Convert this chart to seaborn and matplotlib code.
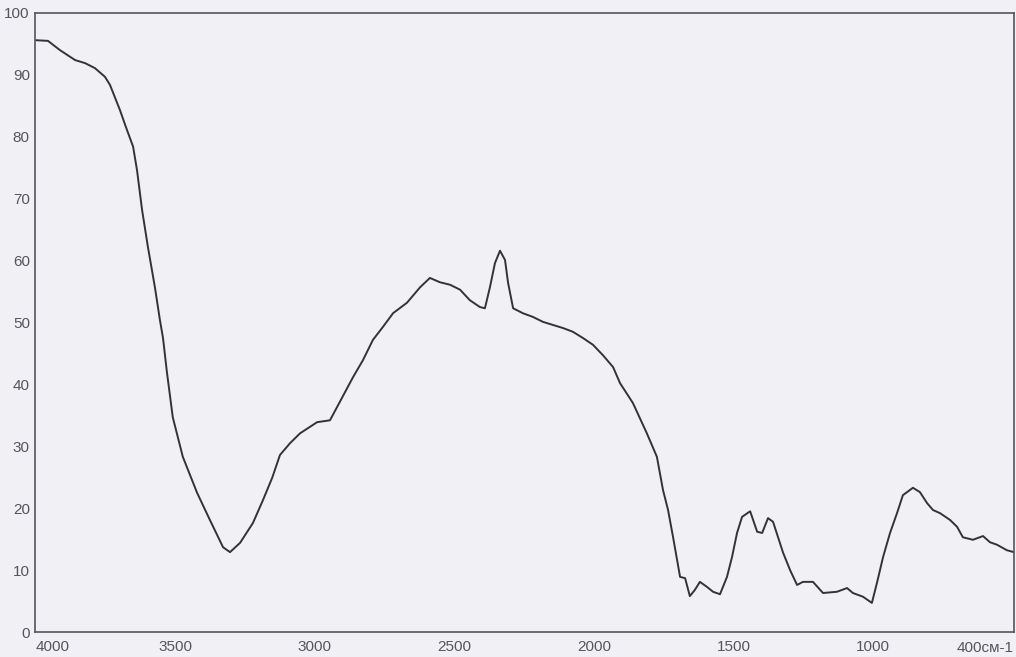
import numpy as np
import pandas as pd
import matplotlib
matplotlib.use('Agg')
import matplotlib.pyplot as plt
import seaborn as sns

# IR spectrum (wavenumber in cm-1, transmittance in %)
wavenumber = [3998, 3955, 3912, 3858, 3822, 3787, 3751, 3733, 3697, 3676,
              3650, 3636, 3618, 3597, 3572, 3554, 3543, 3529, 3508, 3472,
              3421, 3375, 3328, 3303, 3267, 3221, 3185, 3152, 3124, 3088,
              3052, 2991, 2945, 2920, 2862, 2827, 2791, 2755, 2719, 2669,
              2622, 2587, 2551, 2515, 2479, 2444, 2408, 2390, 2372, 2354,
              2336, 2318, 2307, 2289, 2254, 2218, 2182, 2146, 2110, 2075,
              2039, 2003, 1967, 1931, 1906, 1860, 1810, 1774, 1752, 1734,
              1716, 1691, 1673, 1656, 1638, 1620, 1595, 1573, 1548, 1523,
              1505, 1487, 1469, 1440, 1415, 1397, 1376, 1358, 1340, 1322,
              1297, 1272, 1251, 1215, 1179, 1129, 1093, 1072, 1036, 1004,
              986, 964, 939, 914, 893, 857, 832, 806, 785, 760,
              724, 699, 678, 642, 606, 581, 556, 520, 495]
transmittance = [95.6, 95.5, 94.0, 92.4, 91.9, 91.1, 89.7, 88.4, 84.3, 81.6,
                 78.4, 74.6, 68.2, 62.2, 55.7, 50.4, 47.5, 42.0, 34.7, 28.3,
                 22.5, 18.1, 13.7, 12.9, 14.4, 17.6, 21.3, 24.9, 28.6, 30.5,
                 32.1, 33.9, 34.2, 36.3, 41.2, 43.9, 47.2, 49.3, 51.5, 53.2,
                 55.7, 57.2, 56.5, 56.1, 55.3, 53.6, 52.5, 52.3, 55.7, 59.6,
                 61.6, 60.1, 56.4, 52.3, 51.5, 50.9, 50.1, 49.6, 49.1, 48.5,
                 47.5, 46.4, 44.7, 42.8, 40.2, 37.0, 32.1, 28.3, 22.9, 19.7,
                 15.3, 8.9, 8.7, 5.8, 6.8, 8.1, 7.3, 6.5, 6.1, 8.9,
                 12.1, 16.0, 18.6, 19.5, 16.2, 16.0, 18.4, 17.8, 15.3, 12.8,
                 10.0, 7.6, 8.1, 8.1, 6.3, 6.5, 7.1, 6.3, 5.7, 4.7,
                 7.9, 12.1, 16.0, 19.2, 22.1, 23.3, 22.6, 20.8, 19.7, 19.2,
                 18.1, 17.0, 15.3, 14.9, 15.5, 14.5, 14.1, 13.2, 12.9]

x_ticks = [4000, 3500, 3000, 2500, 2000, 1500, 1000]
x_labels = ['4000', '3500', '3000', '2500', '2000', '1500', '1000']
y_ticks = [0, 10, 20, 30, 40, 50, 60, 70, 80, 90, 100]
end_label = '400см-1'

df = pd.DataFrame({'wn': wavenumber, 'T': transmittance})

sns.set_style('white')
plt.rcParams['font.family'] = ['Liberation Sans', 'DejaVu Sans']

paper = '#f1f0f4'
ink = '#333337'
label_col = '#55555d'

fig = plt.figure(figsize=(10.16, 6.57), dpi=100, facecolor=paper)
ax = fig.add_axes([35.4 / 1016, 25 / 657, (1014 - 35.4) / 1016, (632 - 13) / 657])
ax.set_facecolor(paper)

sns.lineplot(data=df, x='wn', y='T', sort=False, estimator=None,
             color=ink, linewidth=1.4, ax=ax)

ax.set_xlim(4000, 495)
ax.set_ylim(0, 100)
ax.set_xticks(x_ticks)
ax.set_xticklabels(x_labels)
ax.set_yticks(y_ticks)
ax.set_xlabel('')
ax.set_ylabel('')

ax.tick_params(axis='x', direction='in', length=4, width=1, colors=ink,
               labelcolor=label_col, labelsize=11, pad=6)
ax.tick_params(axis='y', direction='out', length=3, width=1, colors=ink,
               labelcolor=label_col, labelsize=11, pad=1)
ax.get_xticklabels()[0].set_horizontalalignment('left')

for side in ['left', 'bottom', 'top', 'right']:
    ax.spines[side].set_color('#55555c')
    ax.spines[side].set_linewidth(1.2)

ax.text(0.9418, -0.0145, end_label, transform=ax.transAxes, ha='left', va='top',
        fontsize=11, color=label_col, clip_on=False)

fig.savefig('out.png', dpi=100, facecolor=paper)
